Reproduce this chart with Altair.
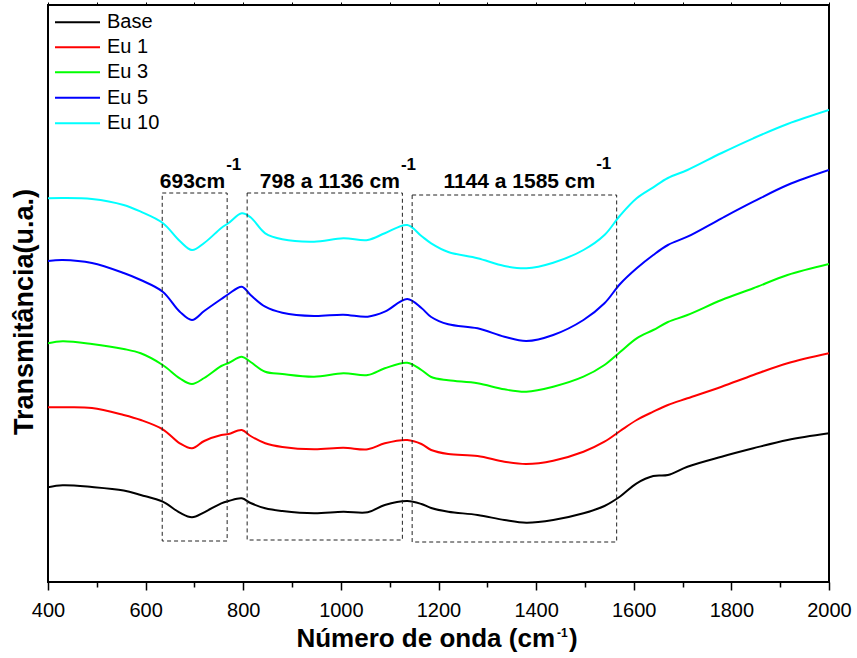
import altair as alt
import pandas as pd

# ---------------- data ----------------
wavenumber = [400, 430, 490, 555, 590, 635, 670, 695, 720, 755, 770, 797, 815, 845, 880,
              945, 1005, 1055, 1090, 1136, 1165, 1185, 1220, 1280, 1335, 1380, 1435, 1497,
              1540, 1572, 1606, 1640, 1670, 1710, 1780, 1845, 1915, 2000]

base = [94.7, 96.7, 95, 91.5, 87, 80.3, 69.3, 64.7, 69.7, 78.7, 81, 83.7, 79, 73.7, 71,
        68.7, 70.3, 69.7, 77, 81, 78, 74, 70.3, 67, 62, 59.3, 62, 68.7, 76, 85.5,
        98.7, 106, 107, 115.3, 125.3, 133.7, 142, 148.7]
eu1 = [174.7, 174.7, 174, 167, 162, 152.7, 138.7, 133.7, 141, 147, 148, 152, 146, 138.7, 135,
       132.7, 134.3, 132.7, 138.7, 142, 138, 132, 128, 126, 120.3, 118, 121.3, 130.3,
       140.3, 151, 162, 170.3, 177, 183.7, 195.3, 207, 218.7, 228.7]
eu3 = [238.7, 240.7, 238, 233, 228.7, 217, 203.7, 198, 204, 216, 219, 225.3, 220, 210.3, 208,
       205.3, 208.7, 207, 213.7, 219.3, 212, 205, 201.7, 198.7, 192.7, 190.3, 195.3, 205.3,
       217, 230, 243.7, 252, 260, 267, 282, 293.7, 307, 318]
eu5 = [321, 322, 319, 309, 302, 290.3, 270.3, 262, 271, 283, 288, 295.3, 287, 275.3, 269.3,
       266, 267.3, 265.3, 270.3, 283, 274, 265, 257.7, 253.7, 245.3, 241, 247, 262,
       278.7, 298, 313.7, 327, 337, 345.3, 363.7, 380.3, 397, 412]
eu10 = [383.7, 384, 383, 377, 370.3, 359, 341, 332, 339, 354, 359, 368.7, 364.7, 348.7, 342.7,
        340.3, 343.7, 342, 348.7, 357, 346, 338.7, 330, 323.7, 316, 313.7, 319.3, 332,
        347, 366.5, 383.7, 394.7, 404, 412, 429, 443.7, 458, 472]

series_names = ["Base", "Eu 1", "Eu 3", "Eu 5", "Eu 10"]
series_colors = ["#000000", "#FF0000", "#00FF00", "#0000FF", "#00FFFF"]

# dashed regions: x from, x to, y top, y bottom (u.a.)
box_x1 = [634, 808, 1146]
box_x2 = [767, 1126, 1565]
box_y1 = [389, 389, 387]
box_y2 = [41, 42, 40]

# region labels
label_main = ["693cm", "798 a 1136 cm", "1144 a 1585 cm"]
label_sup = ["-1", "-1", "-1"]
label_x = [763, 1121, 1521]
label_y = [394, 394, 394]
label_sup_y = [412, 412, 413]

# legend row positions (u.a.)
legend_y = [559.7, 534.7, 509.7, 484.3, 458.7]

FONT = "Liberation Sans"

# ---------------- tables ----------------
rows = []
for name, vals in zip(series_names, [base, eu1, eu3, eu5, eu10]):
    for x, y in zip(wavenumber, vals):
        rows.append({"serie": name, "x": x, "y": y})
df = pd.DataFrame(rows)

boxes = pd.DataFrame({"x1": box_x1, "x2": box_x2, "y1": box_y1, "y2": box_y2})
labels = pd.DataFrame({"main": label_main, "sup": label_sup, "x": label_x,
                       "y": label_y, "ys": label_sup_y})
leg = pd.DataFrame({"serie": series_names, "y": legend_y})

xscale = alt.Scale(domain=[400, 2000], nice=False, zero=False)
yscale = alt.Scale(domain=[0, 577], nice=False, zero=False)
color = alt.Color("serie:N", scale=alt.Scale(domain=series_names, range=series_colors),
                  legend=None)

ticks = list(range(400, 2001, 100))

lines = alt.Chart(df).mark_line(strokeWidth=2, interpolate="catmull-rom", clip=True).encode(
    x=alt.X("x:Q", scale=xscale, axis=alt.Axis(
        values=ticks, format="d", title=None,
        labelExpr="datum.value % 200 === 0 ? datum.label : ''",
        labelOverlap=False, labelFlush=False, labelFont=FONT, labelFontSize=20,
        labelColor="black", labelBaseline="alphabetic", labelPadding=26,
        tickSize={"condition": {"test": "datum.value % 200 === 0", "value": 8}, "value": 5},
        tickColor="black", tickWidth=1.5, domain=False, grid=False)),
    y=alt.Y("y:Q", scale=yscale, axis=None),
    color=color,
    detail="serie:N",
)

box_layer = alt.Chart(boxes).mark_rect(fill=None, stroke="#222222", strokeWidth=1,
                                       strokeDash=[4, 3]).encode(
    x=alt.X("x1:Q", scale=xscale, axis=alt.Axis(
        orient="top", values=ticks, labels=False, title=None, tickSize=3,
        tickColor="black", domain=False, grid=False)),
    x2="x2:Q",
    y=alt.Y("y1:Q", scale=yscale, axis=None),
    y2="y2:Q",
)

txt_main = alt.Chart(labels).mark_text(font=FONT, fontSize=21, fontWeight="bold",
                                       align="right", baseline="alphabetic",
                                       color="black").encode(
    x=alt.X("x:Q", scale=xscale, axis=None),
    y=alt.Y("y:Q", scale=yscale, axis=None),
    text="main:N",
)
txt_sup = alt.Chart(labels).mark_text(font=FONT, fontSize=17, fontWeight="bold",
                                      align="left", baseline="alphabetic", dx=1,
                                      color="black").encode(
    x=alt.X("x:Q", scale=xscale, axis=None),
    y=alt.Y("ys:Q", scale=yscale, axis=None),
    text="sup:N",
)

leg_rule = alt.Chart(leg).mark_rule(strokeWidth=2).encode(
    x=alt.value(7), x2=alt.value(52),
    y=alt.Y("y:Q", scale=yscale, axis=None),
    color=color,
)
leg_text = alt.Chart(leg).mark_text(font=FONT, fontSize=20, align="left",
                                    baseline="middle", color="black").encode(
    x=alt.value(59),
    y=alt.Y("y:Q", scale=yscale, axis=None),
    text="serie:N",
)

dummy = pd.DataFrame({"k": [0]})
yt = alt.Chart(dummy).mark_text(text="Transmitância(u.a.)", font=FONT, fontSize=27,
                                fontWeight="bold", angle=270, align="center",
                                baseline="alphabetic",
                                color="black").encode(x=alt.value(-15), y=alt.value(307))
xt1 = alt.Chart(dummy).mark_text(text="Número de onda (cm", font=FONT, fontSize=26,
                                 fontWeight="bold", align="right", baseline="alphabetic",
                                 color="black").encode(x=alt.value(507), y=alt.value(642))
xt2 = alt.Chart(dummy).mark_text(text="-1", font=FONT, fontSize=12, fontWeight="bold",
                                 align="left", baseline="alphabetic",
                                 color="black").encode(x=alt.value(509), y=alt.value(632))
xt3 = alt.Chart(dummy).mark_text(text=")", font=FONT, fontSize=26, fontWeight="bold",
                                 align="left", baseline="alphabetic",
                                 color="black").encode(x=alt.value(521), y=alt.value(642))

chart = alt.layer(
    lines, box_layer, txt_main, txt_sup, leg_rule, leg_text, yt, xt1, xt2, xt3
).resolve_scale(x="independent").properties(
    width=781, height=577,
    padding={"left": 48, "top": 5, "right": 28, "bottom": 76},
    autosize=alt.AutoSizeParams(type="none"),
).configure_view(stroke="black", strokeWidth=2).configure_axis(grid=False)

chart.save("out.html", embed_options={"renderer": "svg", "actions": False})
